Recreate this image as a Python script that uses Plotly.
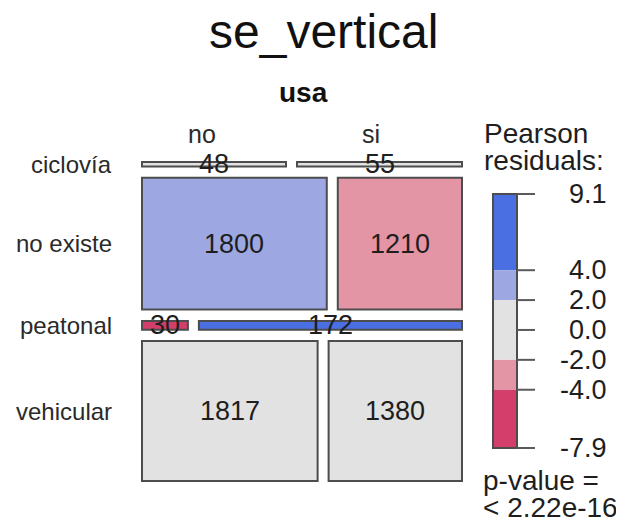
import numpy as np
import plotly.graph_objects as go

# ---------------- data ----------------
rows = ["ciclovía", "no existe", "peatonal", "vehicular"]
cols = ["no", "si"]
counts_no = [48, 1800, 30, 1817]
counts_si = [55, 1210, 172, 1380]
legend_ticks = [9.1, 4.0, 2.0, 0.0, -2.0, -4.0, -7.9]
title_text = "se_vertical"
col_var = "usa"
pvalue_text = ["p-value =", "< 2.22e-16"]

# ---------------- computations ----------------
tab = np.array([counts_no, counts_si], dtype=float).T  # rows x cols
N = tab.sum()
rtot = tab.sum(axis=1)
ctot = tab.sum(axis=0)
expected = np.outer(rtot, ctot) / N
resid = (tab - expected) / np.sqrt(expected)

C_DB, C_LB, C_G, C_LR, C_DR = "#4A6FE3", "#9DA8E2", "#E2E2E2", "#E495A5", "#D33F6A"


def shade(r):
    if r > 4:
        return C_DB
    if r > 2:
        return C_LB
    if r >= -2:
        return C_G
    if r >= -4:
        return C_LR
    return C_DR


FONT = "Liberation Sans, Arial, sans-serif"
TXT = "#1e1e1e"
W, H = 624, 527
OFF = 8  # page body margin


def px(v):
    return (v - OFF) / W


def py(v):
    return 1 - (v - OFF) / H


# pixel frame of mosaic (reference pixels)
X0, X1 = 142, 462
Y0, Y1 = 162, 481
PAD = 4
gap_x = 11 / (X1 - X0)
gap_y = 0.0355
nrow = len(rows)
avail_y = 1 - gap_y * (nrow - 1)

fig = go.Figure()
shapes = []
annotations = []

y = 0.0
for i, rname in enumerate(rows):
    h = rtot[i] / N * avail_y
    x = 0.0
    avail_x = 1 - gap_x * (len(cols) - 1)
    for j in range(len(cols)):
        w = tab[i, j] / rtot[i] * avail_x
        shapes.append(dict(type="rect", xref="x", yref="y", x0=x, x1=x + w, y0=y, y1=y + h,
                           fillcolor=shade(resid[i, j]),
                           line=dict(color="#4d4d4d", width=2), layer="above"))
        annotations.append(dict(x=x + w / 2, y=y + h / 2, xref="x", yref="y",
                                text=str(int(tab[i, j])), showarrow=False,
                                font=dict(family=FONT, size=27, color=TXT),
                                xanchor="center", yanchor="middle"))
        x += w + gap_x
    annotations.append(dict(x=px(114), y=y + h / 2, xref="paper", yref="y",
                            text=rname, showarrow=False,
                            font=dict(family=FONT, size=24, color="#2a2a2a"),
                            xanchor="right", yanchor="middle"))
    y += h + gap_y

padx = PAD / (X1 - X0)
pady = PAD / (Y1 - Y0)

fig.add_trace(go.Scatter(x=[0, 1], y=[0, 1], mode="markers", marker=dict(opacity=0),
                         hoverinfo="skip", showlegend=False, xaxis="x", yaxis="y"))

# ---------------- legend bar ----------------
LB_X0, LB_X1 = 493, 517
LB_Y0, LB_Y1 = 194, 448
vmax, vmin = legend_ticks[0], legend_ticks[-1]
ppu = (LB_Y1 - LB_Y0) / (vmax - vmin)
bw = LB_X1 - LB_X0
x2_left_px, x2_right_px = 489, 540
x2_range = [(x2_left_px - LB_X0) / bw, (x2_right_px - LB_X0) / bw]
y2_range = [vmin - 4 / ppu, vmax + 4 / ppu]
y2_dom = [py(LB_Y1 + 4), py(LB_Y0 - 4)]

fig.add_trace(go.Scatter(x=[0, 1], y=[vmin, vmax], mode="markers", marker=dict(opacity=0),
                         hoverinfo="skip", showlegend=False, xaxis="x2", yaxis="y2"))

bands = [(4, vmax, C_DB), (2, 4, C_LB), (-2, 2, C_G), (-4, -2, C_LR), (vmin, -4, C_DR)]
for lo, hi, col in bands:
    shapes.append(dict(type="rect", xref="x2", yref="y2", x0=0, x1=1, y0=lo, y1=hi,
                       fillcolor=col, line=dict(width=0), layer="above"))
shapes.append(dict(type="rect", xref="x2", yref="y2", x0=0, x1=1, y0=vmin, y1=vmax,
                   fillcolor="rgba(0,0,0,0)", line=dict(color="#4d4d4d", width=2), layer="above"))
for t in legend_ticks:
    shapes.append(dict(type="line", xref="x2", yref="y2", x0=1, x1=1 + 18 / bw, y0=t, y1=t,
                       line=dict(color="#5a5a5a", width=2), layer="above"))
    annotations.append(dict(x=px(609), y=t, xref="paper", yref="y2", text=f"{t:.1f}",
                            showarrow=False, font=dict(family=FONT, size=27, color=TXT),
                            xanchor="right", yanchor="middle"))

# ---------------- other texts ----------------
annotations += [
    dict(x=px(323), y=py(32), xref="paper", yref="paper", text=title_text, showarrow=False,
         font=dict(family=FONT, size=48, color="#111"), xanchor="center", yanchor="middle"),
    dict(x=px(303), y=py(93), xref="paper", yref="paper", text=f"<b>{col_var}</b>",
         showarrow=False, font=dict(family=FONT, size=28, color="#111"),
         xanchor="center", yanchor="middle"),
    dict(x=px(202), y=py(134), xref="paper", yref="paper", text=cols[0], showarrow=False,
         font=dict(family=FONT, size=25, color="#2a2a2a"), xanchor="center", yanchor="middle"),
    dict(x=px(371), y=py(134), xref="paper", yref="paper", text=cols[1], showarrow=False,
         font=dict(family=FONT, size=25, color="#2a2a2a"), xanchor="center", yanchor="middle"),
    dict(x=px(482), y=py(134), xref="paper", yref="paper", text="Pearson", showarrow=False,
         font=dict(family=FONT, size=28, color=TXT), xanchor="left", yanchor="middle"),
    dict(x=px(482), y=py(161), xref="paper", yref="paper", text="residuals:", showarrow=False,
         font=dict(family=FONT, size=28, color=TXT), xanchor="left", yanchor="middle"),
    dict(x=px(481), y=py(480), xref="paper", yref="paper", text=pvalue_text[0], showarrow=False,
         font=dict(family=FONT, size=28, color=TXT), xanchor="left", yanchor="middle"),
    dict(x=px(481), y=py(507), xref="paper", yref="paper", text=pvalue_text[1], showarrow=False,
         font=dict(family=FONT, size=28, color=TXT), xanchor="left", yanchor="middle"),
]

hidden = dict(showgrid=False, zeroline=False, showticklabels=False, ticks="", showline=False)
fig.update_layout(
    width=W, height=H,
    margin=dict(l=0, r=0, t=0, b=0),
    paper_bgcolor="white", plot_bgcolor="rgba(0,0,0,0)",
    showlegend=False,
    xaxis=dict(domain=[px(X0 - PAD), px(X1 + PAD)], range=[-padx, 1 + padx], **hidden),
    yaxis=dict(domain=[py(Y1 + PAD), py(Y0 - PAD)], range=[1 + pady, -pady],
               anchor="x", **hidden),
    xaxis2=dict(domain=[px(x2_left_px), px(x2_right_px)], range=x2_range, anchor="y2", **hidden),
    yaxis2=dict(domain=y2_dom, range=y2_range, anchor="x2", **hidden),
    shapes=shapes,
    annotations=annotations,
)

fig.write_html("out.html")
